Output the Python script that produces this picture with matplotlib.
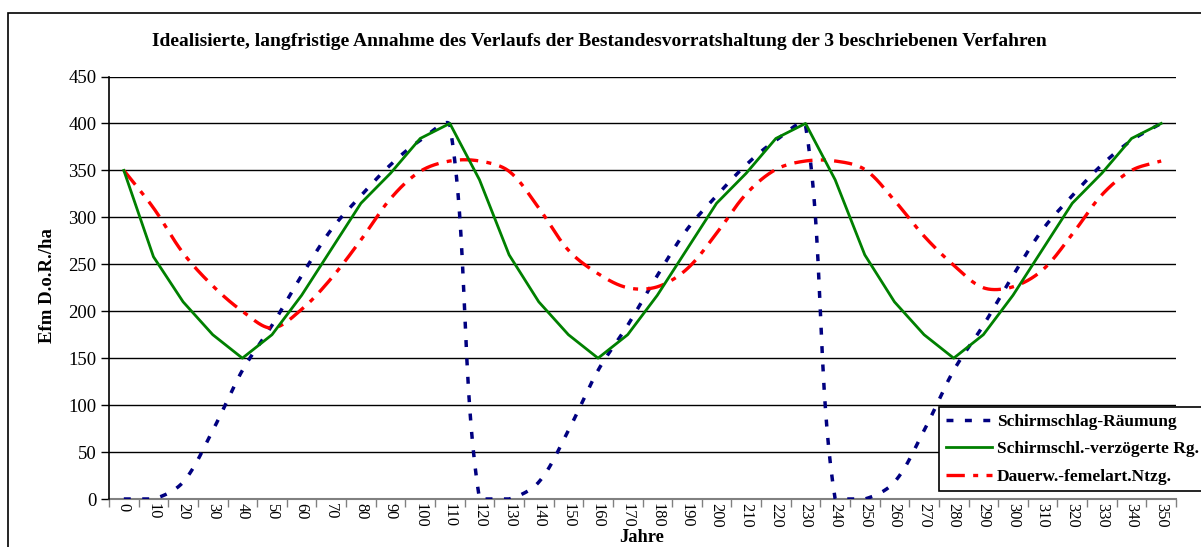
import numpy as np
import matplotlib
matplotlib.use("Agg")
import matplotlib.pyplot as plt
from matplotlib.patches import Rectangle

plt.rcParams['font.family'] = ['Liberation Serif', 'DejaVu Serif']

title = "Idealisierte, langfristige Annahme des Verlaufs der Bestandesvorratshaltung der 3 beschriebenen Verfahren"
years = list(range(0, 360, 10))
raeumung = [0, 0, 18, 73, 137, 185, 238, 287, 323, 356, 382, 398,
            0, 0, 18, 73, 137, 185, 238, 287, 323, 356, 382, 398,
            0, 0, 18, 73, 137, 185, 238, 287, 323, 356, 382, 400]
verzoegert = [350, 258, 210, 175, 150, 175, 217, 266, 315, 347, 384, 400,
              340, 260, 210, 175, 150, 175, 217, 266, 315, 347, 384, 400,
              340, 260, 210, 175, 150, 175, 217, 266, 315, 347, 384, 400]
femel = [350, 310, 262, 227, 200, 182, 202, 235, 276, 320, 349, 360,
         360, 349, 310, 265, 240, 225, 226, 245, 283, 325, 351, 360,
         360, 351, 318, 280, 249, 225, 226, 244, 282, 324, 350, 360]
series_names = ["Schirmschlag-Räumung", "Schirmschl.-verzögerte Rg.", "Dauerw.-femelart.Ntzg."]

W, H = 1201, 547
ax_l, ax_r, ax_t, ax_b = 109, 1176, 76.5, 499
PX_X = (ax_r - ax_l) / len(years)      # pixels per category
PX_Y = (ax_b - ax_t) / 450.0           # pixels per value unit


def smooth(y, n=40):
    """Excel-like smoothed line: Bezier segments, control offsets weighted by chord lengths (pixel space)."""
    y = np.asarray(y, float)
    k = len(y)
    P = np.column_stack([np.arange(k) * PX_X, y * PX_Y])
    cm = np.zeros_like(P)
    cp = np.zeros_like(P)
    for i in range(k):
        a = P[max(i - 1, 0)]
        b = P[min(i + 1, k - 1)]
        T = b - a
        dp = np.linalg.norm(P[i] - a)
        dn = np.linalg.norm(b - P[i])
        s = dp + dn
        if s == 0:
            cm[i] = cp[i] = P[i]
            continue
        cm[i] = P[i] - T * (1 / 3) * dp / s
        cp[i] = P[i] + T * (1 / 3) * dn / s
    pts = []
    for i in range(k - 1):
        t = np.linspace(0, 1, n, endpoint=(i == k - 2))[:, None]
        p0, p1, p2, p3 = P[i], cp[i], cm[i + 1], P[i + 1]
        B = (1 - t)**3 * p0 + 3 * (1 - t)**2 * t * p1 + 3 * (1 - t) * t**2 * p2 + t**3 * p3
        pts.append(B)
    pts = np.vstack(pts)
    return pts[:, 0] / PX_X, np.clip(pts[:, 1] / PX_Y, 0, None)


fig = plt.figure(figsize=(W / 100, H / 100), dpi=100)
ax = fig.add_axes([ax_l / W, 1 - ax_b / H, (ax_r - ax_l) / W, (ax_b - ax_t) / H])

# outer chart frame
fig.patches.append(Rectangle((7.5 / W, -0.2), 1.5, 1.2 - 12.5 / H,
                             transform=fig.transFigure, fill=False,
                             edgecolor='black', linewidth=1.2))

idx = np.arange(len(years))
bx, by = smooth(raeumung)
ax.plot(bx, by, color='#000080', lw=2.5, linestyle=(0, (2.0, 3.3)),
        dash_capstyle='butt', label=series_names[0], zorder=3)
ax.plot(idx, verzoegert, color='#008000', lw=2.0, label=series_names[1], zorder=4)
rx, ry = smooth(femel)
ax.plot(rx, ry, color='#FF0000', lw=2.4, linestyle=(0, (5.5, 2.5, 1.5, 2.5)),
        dash_capstyle='butt', label=series_names[2], zorder=3)

ax.set_xlim(-0.5, len(years) - 0.5)
ax.set_ylim(0, 450)
ax.set_yticks(range(0, 451, 50))
ax.set_yticklabels([str(v) for v in range(0, 451, 50)], fontsize=13.5)
ax.set_xticks(idx)
ax.set_xticklabels([str(v) for v in years], rotation=-90, fontsize=11.8)
ax.set_xticks(np.arange(-0.5, len(years), 1), minor=True)
ax.tick_params(axis='x', which='major', length=0, pad=3)
ax.tick_params(axis='x', which='minor', length=6, width=1, color='#808080', direction='out')
ax.tick_params(axis='y', length=6, width=1, direction='out', pad=3)
ax.yaxis.grid(True, color='black', lw=1.0)
ax.set_axisbelow(True)
for s in ['top', 'right']:
    ax.spines[s].set_visible(False)
ax.spines['left'].set_color('black')
ax.spines['left'].set_linewidth(1.2)
ax.spines['bottom'].set_color('#808080')
ax.spines['bottom'].set_linewidth(1.5)
ax.spines['bottom'].set_zorder(2)

fig.text(599 / W, 1 - 42 / H, title, ha='center', va='center', fontsize=14, fontweight='bold')
fig.text(48 / W, 1 - 286 / H, "Efm D.o.R./ha", ha='center', va='center', rotation=90,
         fontsize=13.5, fontweight='bold')
fig.text(642 / W, 1 - 537 / H, "Jahre", ha='center', va='center', fontsize=13.2, fontweight='bold')

leg = ax.legend(loc='upper left', bbox_to_anchor=(939 / W, 1 - 407 / H),
                bbox_transform=fig.transFigure, frameon=True, fancybox=False,
                edgecolor='black', framealpha=1, handlelength=2.7, handletextpad=0.25,
                borderpad=0.38, labelspacing=0.65, borderaxespad=0,
                prop={'weight': 'bold', 'size': 12.5})
leg.get_frame().set_linewidth(1.2)
leg.set_zorder(10)

fig.savefig("out.png", dpi=100)
